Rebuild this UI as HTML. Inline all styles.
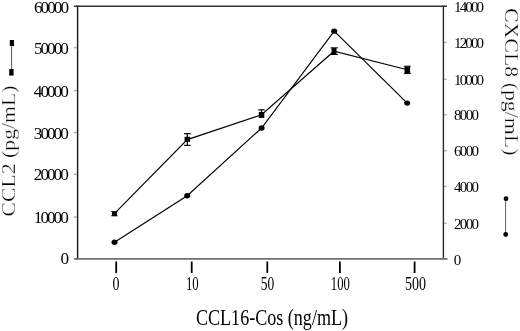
<!DOCTYPE html>
<html><head><meta charset="utf-8">
<style>
html,body{margin:0;padding:0;background:#fff;width:520px;height:331px;overflow:hidden}
svg{display:block}
text{font-family:"Liberation Serif","Times New Roman",serif;fill:#000}
.thin{stroke:#fff;stroke-width:0.3px}
</style></head>
<body>
<svg width="520" height="331" viewBox="0 0 520 331">
<!-- frame -->
<g stroke-linecap="butt" fill="none">
<line x1="74" y1="6.2" x2="447" y2="6.2" stroke="#333" stroke-width="1.5"/>
<line x1="77.6" y1="5.5" x2="77.6" y2="259.5" stroke="#222" stroke-width="1.5"/>
<line x1="443.4" y1="5.5" x2="443.4" y2="259.5" stroke="#2a2a2a" stroke-width="1.4"/>
<line x1="74" y1="258.8" x2="447.5" y2="258.8" stroke="#707070" stroke-width="1.8"/>
<!-- left ticks -->
<g stroke="#aaa" stroke-width="1.4">
<line x1="73.8" y1="47.6" x2="77" y2="47.6"/>
<line x1="73.8" y1="90.6" x2="77" y2="90.6"/>
<line x1="73.8" y1="132.5" x2="77" y2="132.5"/>
<line x1="73.8" y1="174.4" x2="77" y2="174.4"/>
<line x1="73.8" y1="217.1" x2="77" y2="217.1"/>
</g>
<!-- right ticks -->
<g stroke="#aaa" stroke-width="1.4">
<line x1="444" y1="42.4" x2="446.8" y2="42.4"/>
<line x1="444" y1="79.3" x2="446.8" y2="79.3"/>
<line x1="444" y1="114.7" x2="446.8" y2="114.7"/>
<line x1="444" y1="150.7" x2="446.8" y2="150.7"/>
<line x1="444" y1="186.4" x2="446.8" y2="186.4"/>
<line x1="444" y1="223.3" x2="446.8" y2="223.3"/>
</g>
<!-- x ticks -->
<g stroke="#000" stroke-width="1.8">
<line x1="116.2" y1="261.5" x2="116.2" y2="273"/>
<line x1="191.7" y1="261.5" x2="191.7" y2="273"/>
<line x1="267.3" y1="261.5" x2="267.3" y2="273"/>
<line x1="339.9" y1="261.5" x2="339.9" y2="273"/>
<line x1="414.6" y1="261.5" x2="414.6" y2="273"/>
</g>
</g>

<!-- left labels -->
<g font-size="17.2" text-anchor="end">
<text x="69" y="13" textLength="35" lengthAdjust="spacing">60000</text>
<text x="68.9" y="54" textLength="35" lengthAdjust="spacing">50000</text>
<text x="68.8" y="97" textLength="35" lengthAdjust="spacing">40000</text>
<text x="68.8" y="139" textLength="35" lengthAdjust="spacing">30000</text>
<text x="68.8" y="180" textLength="35" lengthAdjust="spacing">20000</text>
<text x="68.8" y="223" textLength="35" lengthAdjust="spacing">10000</text>
<text x="69" y="264" textLength="8" lengthAdjust="spacing">0</text>
</g>
<!-- right labels -->
<g font-size="15">
<text x="454" y="12" textLength="30" lengthAdjust="spacing">14000</text>
<text x="454" y="47.8" textLength="30" lengthAdjust="spacing">12000</text>
<text x="454" y="85" textLength="30" lengthAdjust="spacing">10000</text>
<text x="454" y="120" textLength="25" lengthAdjust="spacing">8000</text>
<text x="454" y="156" textLength="25" lengthAdjust="spacing">6000</text>
<text x="454" y="192" textLength="25" lengthAdjust="spacing">4000</text>
<text x="454" y="229" textLength="25" lengthAdjust="spacing">2000</text>
<text x="453.8" y="265" textLength="6" lengthAdjust="spacing">0</text>
</g>
<!-- x labels -->
<g font-size="18" text-anchor="middle">
<text x="116" y="290" textLength="7" lengthAdjust="spacingAndGlyphs">0</text>
<text x="192.3" y="290" textLength="12.8" lengthAdjust="spacingAndGlyphs">10</text>
<text x="267.6" y="290" textLength="13.5" lengthAdjust="spacingAndGlyphs">50</text>
<text x="340.3" y="290" textLength="19" lengthAdjust="spacingAndGlyphs">100</text>
<text x="415.5" y="290" textLength="21" lengthAdjust="spacingAndGlyphs">500</text>
</g>
<!-- x title -->
<text x="196" y="325" font-size="23.5" textLength="152" lengthAdjust="spacingAndGlyphs">CCL16-Cos (ng/mL)</text>
<!-- left title -->
<text class="thin" transform="translate(14.5,216.5) rotate(-90)" font-size="19.5" textLength="131" lengthAdjust="spacingAndGlyphs">CCL2 (pg/mL)</text>
<!-- right title -->
<text class="thin" transform="translate(504.8,8) rotate(90)" font-size="19.5" textLength="147.5" lengthAdjust="spacingAndGlyphs">CXCL8 (pg/mL)</text>

<!-- legends -->
<line x1="11.6" y1="45" x2="11.6" y2="70" stroke="#555" stroke-width="1"/>
<rect x="9.8" y="40" width="4.2" height="6" fill="#000"/>
<rect x="9.2" y="69" width="4.4" height="6.6" fill="#000"/>
<line x1="505.6" y1="199" x2="505.6" y2="234" stroke="#666" stroke-width="1"/>
<circle cx="506" cy="198.7" r="2.4" fill="#000"/>
<circle cx="505.7" cy="234.5" r="2.4" fill="#000"/>

<!-- data lines -->
<g fill="none" stroke="#000" stroke-width="1.15">
<polyline points="114.4,213.7 187.3,139.6 261.5,114.8 334,51.2 407.3,69.8"/>
<polyline points="114.5,242.2 187.2,195.7 261.6,128 334.2,31.2 407.2,103.1"/>
</g>
<!-- square markers with error bars -->
<g fill="#000" stroke="#000">
<rect x="112" y="211.6" width="4.9" height="4.3" stroke="none"/>
<line x1="111.2" y1="211.6" x2="117.6" y2="211.6" stroke-width="1"/>
<line x1="111.2" y1="215.8" x2="117.6" y2="215.8" stroke-width="1"/>
<rect x="184.6" y="136.8" width="5.5" height="5.1" stroke="none"/>
<line x1="187.3" y1="133.7" x2="187.3" y2="145.4" stroke-width="1.2"/>
<line x1="184.1" y1="133.7" x2="190.6" y2="133.7" stroke-width="1.2"/>
<line x1="184.1" y1="145.4" x2="190.6" y2="145.4" stroke-width="1.2"/>
<rect x="258.8" y="112" width="5.5" height="6" stroke="none"/>
<line x1="261.5" y1="109.8" x2="261.5" y2="118" stroke-width="1.2"/>
<line x1="258.3" y1="109.8" x2="264.7" y2="109.8" stroke-width="1.2"/>
<rect x="331.5" y="48" width="5" height="6.5" stroke="none"/>
<line x1="330.6" y1="47.8" x2="337.9" y2="47.8" stroke-width="1"/>
<line x1="330.6" y1="54.5" x2="337.9" y2="54.5" stroke-width="1"/>
<rect x="404.5" y="66.5" width="5.6" height="7" stroke="none"/>
<line x1="403.8" y1="66.2" x2="410.8" y2="66.2" stroke-width="1"/>
<line x1="403.8" y1="73.6" x2="410.8" y2="73.6" stroke-width="1"/>
</g>
<!-- circle markers -->
<g fill="#000">
<ellipse cx="114.5" cy="242.2" rx="3" ry="2.7"/>
<ellipse cx="187.2" cy="195.7" rx="3" ry="2.7"/>
<ellipse cx="261.6" cy="128" rx="3" ry="2.7"/>
<ellipse cx="334.2" cy="31.2" rx="3" ry="2.6"/>
<ellipse cx="407.2" cy="103.1" rx="3" ry="2.6"/>
</g>
</svg>
</body></html>
